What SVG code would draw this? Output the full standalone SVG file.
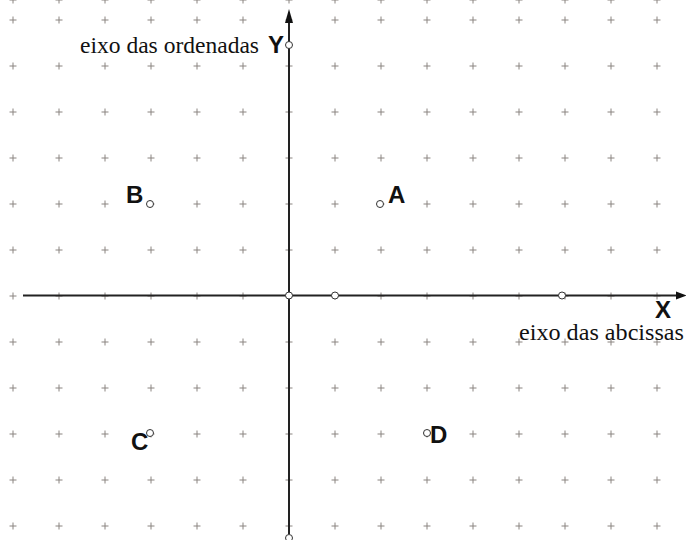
<svg xmlns="http://www.w3.org/2000/svg" width="686" height="540" viewBox="0 0 686 540">
<style>
.g{stroke:#8a8480;stroke-width:1;fill:none}
.ax{stroke:#222;stroke-width:2;fill:none}
.pt{fill:#fff;stroke:#333;stroke-width:1}
.lb{font-family:"Liberation Sans",Arial,sans-serif;font-weight:bold;font-size:24px;fill:#111}
.tx{font-family:"Liberation Serif","Times New Roman",serif;font-size:24px;fill:#111}
</style>
<defs>
<path id="p" d="M-3.5,0H3.5M0,-3.5V3.5" class="g"/>
</defs>
<g id="grid">
<g id="row">
<use href="#p" x="13" y="0"/><use href="#p" x="59" y="0"/><use href="#p" x="105" y="0"/><use href="#p" x="151" y="0"/><use href="#p" x="197" y="0"/><use href="#p" x="243" y="0"/><use href="#p" x="289" y="0"/><use href="#p" x="335" y="0"/><use href="#p" x="381" y="0"/><use href="#p" x="427" y="0"/><use href="#p" x="473" y="0"/><use href="#p" x="519" y="0"/><use href="#p" x="565" y="0"/><use href="#p" x="611" y="0"/><use href="#p" x="657" y="0"/>
</g>
</g>
<g id="gridrows">
<use href="#row" y="20"/><use href="#row" y="66"/><use href="#row" y="112"/><use href="#row" y="158"/><use href="#row" y="204"/><use href="#row" y="250"/><use href="#row" y="296"/><use href="#row" y="342"/><use href="#row" y="388"/><use href="#row" y="434"/><use href="#row" y="480"/><use href="#row" y="526"/>
</g>
<g id="connectors">
<line class="ax" x1="23" y1="295.5" x2="678" y2="295.5"/>
<polygon points="676,291.5 687,295.5 676,299.5" fill="#111"/>
<line class="ax" x1="289" y1="534" x2="289" y2="20"/>
<polygon points="285,23 289,9 293,23" fill="#111"/>
</g>
<g id="O"><circle class="pt" cx="289" cy="295.5" r="3.5"/></g>
<g id="P1"><circle class="pt" cx="335" cy="295.5" r="3.5"/></g>
<g id="P2"><circle class="pt" cx="562" cy="295.5" r="3.5"/></g>
<g id="Ypt"><circle class="pt" cx="289" cy="45" r="3.5"/></g>
<g id="Bot"><circle class="pt" cx="289" cy="538" r="3.5"/></g>
<g id="A"><circle class="pt" cx="380" cy="204" r="3.5"/><text class="lb" x="388" y="203">A</text></g>
<g id="B"><circle class="pt" cx="150" cy="204" r="3.5"/><text class="lb" x="126" y="203">B</text></g>
<g id="C"><circle class="pt" cx="150" cy="433" r="3.5"/><text class="lb" x="131" y="450">C</text></g>
<g id="D"><circle class="pt" cx="427" cy="433" r="3.5"/><text class="lb" x="430" y="443">D</text></g>
<g id="Y"><text class="lb" x="268" y="53">Y</text><text class="tx" x="80" y="53" textLength="179" lengthAdjust="spacingAndGlyphs">eixo das ordenadas</text></g>
<g id="X"><text class="lb" x="655" y="318">X</text><text class="tx" x="519" y="340" textLength="165" lengthAdjust="spacingAndGlyphs">eixo das abcissas</text></g>
</svg>
